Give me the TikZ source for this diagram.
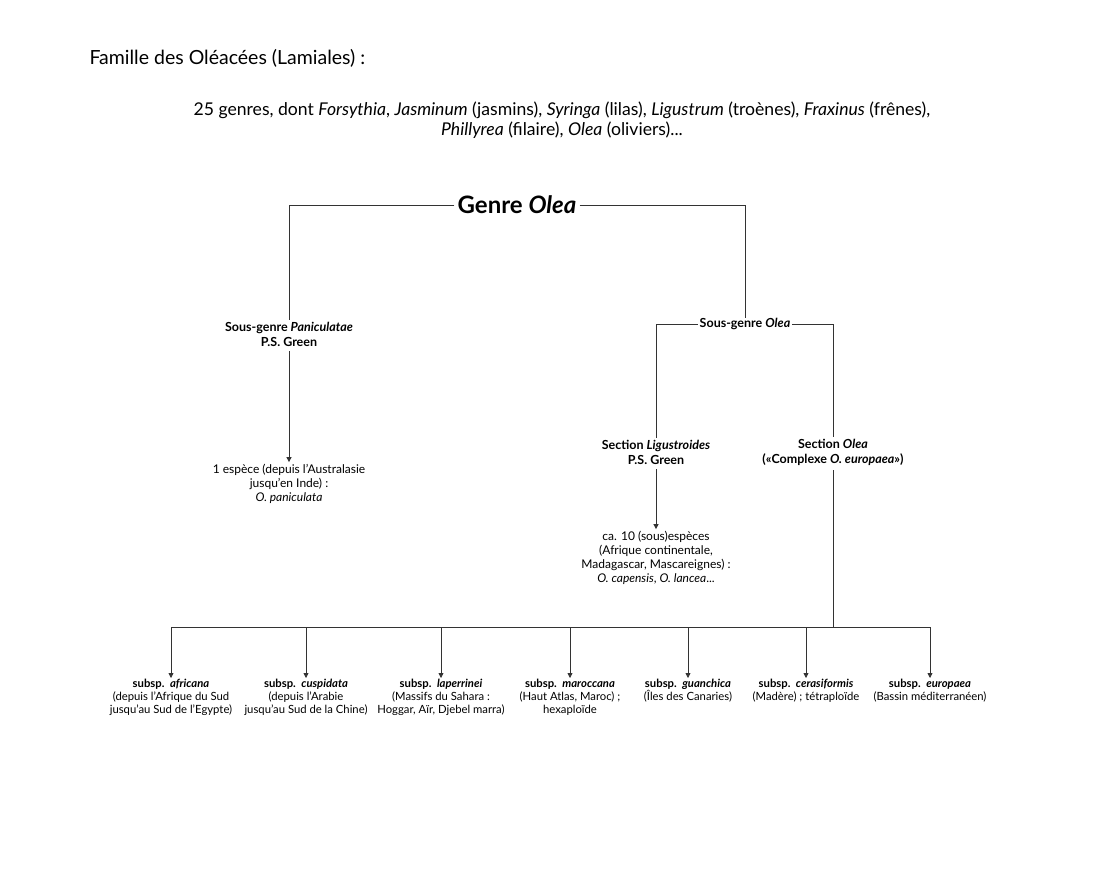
\documentclass[tikz,border=0pt]{standalone}
\usepackage{fontspec}
\setmainfont{Lato}
\usetikzlibrary{arrows.meta}
\begin{document}
\begin{tikzpicture}[x=1pt,y=-1pt,
  ln/.style={draw=black!80,line width=0.8pt},
  arr/.style={ln,-{Triangle[length=5pt,width=5pt]}},
  lab/.style={align=center,inner sep=2pt},
  sub/.style={align=center,inner sep=1pt,font=\fontsize{11.3}{13}\selectfont,anchor=north}]
\useasboundingbox[fill=white] (0,0) rectangle (1100,880);
\node[anchor=west,font=\fontsize{19.5}{20}\selectfont] (title) at (86,58) {Famille des Oléacées (Lamiales) :};
\node[align=center,font=\fontsize{17.6}{20}\selectfont] (sub0) at (562,120) {25 genres, dont \textit{Forsythia}, \textit{Jasminum} (jasmins), \textit{Syringa} (lilas), \textit{Ligustrum} (troènes), \textit{Fraxinus} (frênes),\\ \textit{Phillyrea} (filaire), \textit{Olea} (oliviers)...};
\node[font=\fontsize{24}{26}\selectfont\bfseries,inner sep=3pt] (genre) at (517,205) {Genre \textit{Olea}};
\node[lab,font=\fontsize{12.5}{15}\selectfont\bfseries] (pan) at (289,334) {Sous-genre \textit{Paniculatae}\\P.S. Green};
\node[lab,font=\fontsize{12.5}{12}\selectfont\bfseries] (sgo) at (745,324) {Sous-genre \textit{Olea}};
\node[lab,font=\fontsize{12}{14}\selectfont] (pan1) at (289,484) {1 espèce (depuis l'Australasie\\jusqu'en Inde) :\\\textit{O. paniculata}};
\node[lab,font=\fontsize{12.5}{15}\selectfont\bfseries] (lig) at (656,452) {Section \textit{Ligustroides}\\P.S. Green};
\node[lab,font=\fontsize{12.5}{15}\selectfont\bfseries] (sol) at (833,452) {Section \textit{Olea}\\(«Complexe \textit{O. europaea}»)};
\node[lab,font=\fontsize{12}{14}\selectfont] (lig1) at (656,558) {ca. 10 (sous)espèces\\(Afrique continentale,\\Madagascar, Mascareignes) :\\\textit{O. capensis}, \textit{O. lancea}...};
\coordinate (bar) at (833,627);
\draw[ln] (genre.west) -| (pan.north);
\draw[ln] (genre.east) -| (745,318);
\draw[ln] (sgo.west) -| (lig.north);
\draw[ln] (sgo.east) -| (sol.north);
\draw[arr] (pan.south)++(0,3) -- (pan1.north);
\draw[arr] (lig.south)++(0,3) -- (lig1.north);
\draw[ln] (sol.south)++(0,3) -- (bar);
\draw[ln] (171,627) -- (930,627);
\foreach \x/\n/\t in {171/a/{\textbf{subsp.\ \ \textit{africana}}\\(depuis l'Afrique du Sud\\jusqu'au Sud de l'Egypte)},
 306/b/{\textbf{subsp.\ \ \textit{cuspidata}}\\(depuis l'Arabie\\jusqu'au Sud de la Chine)},
 441/c/{\textbf{subsp.\ \ \textit{laperrinei}}\\(Massifs du Sahara :\\Hoggar, Aïr, Djebel marra)},
 570/d/{\textbf{subsp.\ \ \textit{maroccana}}\\(Haut Atlas, Maroc) ;\\hexaploïde},
 688/e/{\textbf{subsp.\ \ \textit{guanchica}}\\(Îles des Canaries)},
 806/f/{\textbf{subsp.\ \ \textit{cerasiformis}}\\(Madère) ; tétraploïde},
 930/g/{\textbf{subsp.\ \ \textit{europaea}}\\(Bassin méditerranéen)}}{
  \node[sub] (\n) at (\x,678) {\t};
  \draw[arr] (\x,627) -- (\n.north);
}
\end{tikzpicture}
\end{document}
